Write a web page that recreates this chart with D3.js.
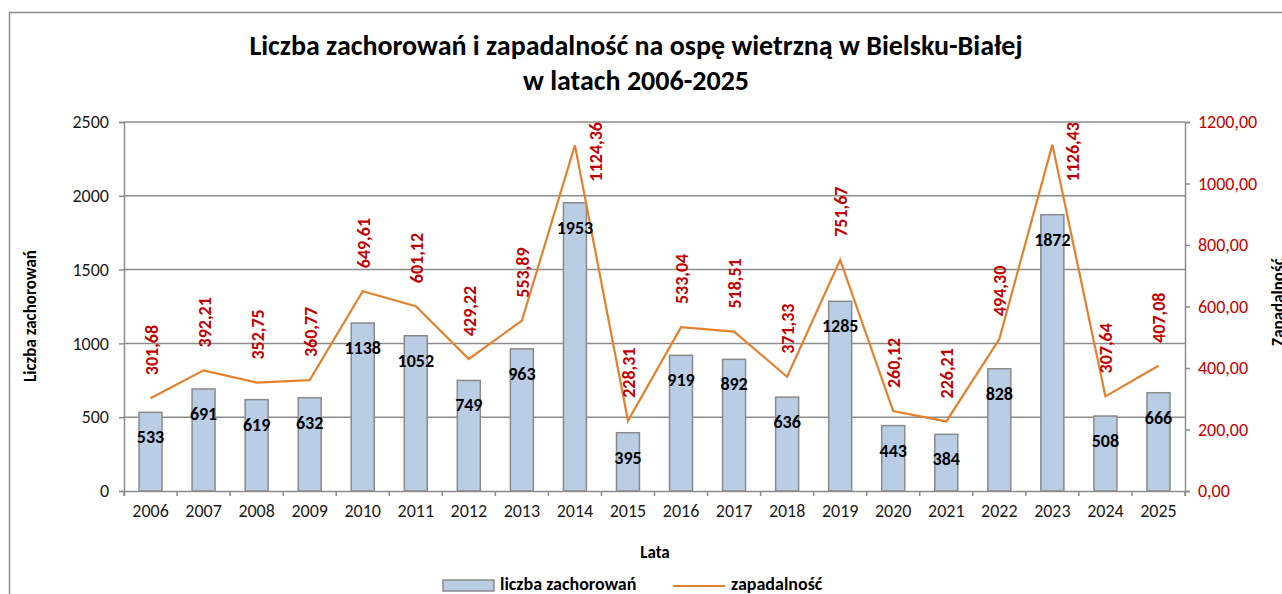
<!DOCTYPE html>
<html>
<head>
<meta charset="utf-8">
<script src="https://cdnjs.cloudflare.com/ajax/libs/d3/7.8.5/d3.min.js"></script>
<style>
  body { margin: 0; background: #fff; }
  text { font-family: Carlito, "Open Sans", "Noto Sans", sans-serif; }
</style>
</head>
<body>
<script>
// data
const years = ["2006", "2007", "2008", "2009", "2010", "2011", "2012", "2013", "2014", "2015",
  "2016", "2017", "2018", "2019", "2020", "2021", "2022", "2023", "2024", "2025"];
const cases = [533, 691, 619, 632, 1138, 1052, 749, 963, 1953, 395,
  919, 892, 636, 1285, 443, 384, 828, 1872, 508, 666];
const incidence = [301.68, 392.21, 352.75, 360.77, 649.61, 601.12, 429.22, 553.89, 1124.36, 228.31,
  533.04, 518.51, 371.33, 751.67, 260.12, 226.21, 494.30, 1126.43, 307.64, 407.08];
const leftTicks = [0, 500, 1000, 1500, 2000, 2500];
const rightTicks = [0, 200, 400, 600, 800, 1000, 1200];

const w = 1282;
const h = 594;
const pLeft = 124, pRight = 1185, pTop = 122, pBottom = 491;

const svg = d3.select("body").append("svg").attr("width", w).attr("height", h);

// outer frame
svg.append("rect")
  .attr("x", 9.5).attr("y", 12.5)
  .attr("width", 1300).attr("height", 700)
  .attr("fill", "none").attr("stroke", "#8c8c8c").attr("stroke-width", 1.5);

const fmt = (v) => v.toFixed(2).replace(".", ",");

/* ######## scales ######### */
const xScale = d3.scaleBand().domain(years).range([pLeft, pRight]);
const yLeft = d3.scaleLinear().domain([0, 2500]).range([pBottom, pTop]);
const yRight = d3.scaleLinear().domain([0, 1200]).range([pBottom, pTop]);
const cx = (i) => xScale(years[i]) + xScale.bandwidth() / 2;

// gridlines
svg.append("g")
  .selectAll("line")
  .data(leftTicks.slice(1))
  .enter()
  .append("line")
  .attr("x1", pLeft).attr("x2", pRight)
  .attr("y1", (d) => yLeft(d)).attr("y2", (d) => yLeft(d))
  .attr("stroke", "#8c8c8c").attr("stroke-width", 1.5);

// bars
const barW = 23;
svg.append("g")
  .selectAll("rect")
  .data(cases)
  .enter()
  .append("rect")
  .attr("x", (d, i) => cx(i) - barW / 2)
  .attr("y", (d) => yLeft(d))
  .attr("width", barW)
  .attr("height", (d) => pBottom - yLeft(d))
  .attr("fill", "#b9cde5")
  .attr("stroke", "#8a8a8a")
  .attr("stroke-width", 1.5);

// axes
const xAxis = d3.axisBottom(xScale).tickSize(5).tickPadding(8);
const yAxisL = d3.axisLeft(yLeft).tickValues(leftTicks).tickSize(5).tickPadding(10).tickFormat(d3.format("d"));
const yAxisR = d3.axisRight(yRight).tickValues(rightTicks).tickSize(5).tickPadding(8).tickFormat(fmt);

const gx = svg.append("g").attr("transform", "translate(0," + pBottom + ")").call(xAxis);
// ticks between categories like excel
gx.selectAll(".tick line").attr("transform", "translate(" + (xScale.bandwidth() / 2) + ",0)");
svg.append("line").attr("x1", pLeft).attr("x2", pLeft).attr("y1", pBottom).attr("y2", pBottom + 5)
  .attr("stroke", "#8c8c8c").attr("stroke-width", 1.5);

const gl = svg.append("g").attr("transform", "translate(" + pLeft + ",0)").call(yAxisL);
const gr = svg.append("g").attr("transform", "translate(" + pRight + ",0)").call(yAxisR);

[gx, gl, gr].forEach((g) => {
  g.select(".domain").attr("stroke", "#8c8c8c").attr("stroke-width", 1.5);
  g.selectAll(".tick line").attr("stroke", "#8c8c8c").attr("stroke-width", 1.5);
  g.selectAll(".tick text").attr("font-size", 18).attr("fill", "#1a1a1a")
    .style("font-family", "Carlito, 'Open Sans', sans-serif");
});
gr.selectAll(".tick text").attr("fill", "#c00000");

// line
const line = d3.line()
  .x((d, i) => cx(i))
  .y((d) => yRight(d));

svg.append("path")
  .datum(incidence)
  .attr("d", line)
  .attr("fill", "none")
  .attr("stroke", "#e3802e")
  .attr("stroke-width", 2.2);

// bar labels
svg.append("g")
  .selectAll("text")
  .data(cases)
  .enter()
  .append("text")
  .attr("x", (d, i) => cx(i))
  .attr("y", (d) => yLeft(d) + 31)
  .attr("text-anchor", "middle")
  .attr("font-size", 18)
  .attr("font-weight", "bold")
  .attr("fill", "#000")
  .text((d) => d);

// line labels (rotated above the point, pushed right/down if they'd leave the plot)
const lbl = svg.append("g")
  .selectAll("text")
  .data(incidence)
  .enter()
  .append("text")
  .attr("text-anchor", "start")
  .attr("font-size", 18)
  .attr("font-weight", "bold")
  .attr("fill", "#c00000")
  .text((d) => fmt(d));

lbl.each(function (d, i) {
  const len = this.getComputedTextLength();
  let y = yRight(d) - 23;
  let x = cx(i) + 7;
  if (y - len < pTop) {
    y = pTop + len;
    x = cx(i) + 27;
  }
  d3.select(this).attr("transform", "translate(" + x + "," + y + ") rotate(-90)");
});

// titles
svg.append("text").attr("x", 636).attr("y", 55).attr("text-anchor", "middle")
  .attr("font-size", 28).attr("font-weight", "bold").attr("fill", "#000")
  .text("Liczba zachorowań i zapadalność na ospę wietrzną w Bielsku-Białej");
svg.append("text").attr("x", 636).attr("y", 90).attr("text-anchor", "middle")
  .attr("font-size", 28).attr("font-weight", "bold").attr("fill", "#000")
  .text("w latach 2006-2025");

svg.append("text").attr("x", 655).attr("y", 558).attr("text-anchor", "middle")
  .attr("font-size", 17).attr("font-weight", "bold").text("Lata");

svg.append("text").attr("transform", "translate(36,316) rotate(-90)").attr("text-anchor", "middle")
  .attr("font-size", 17).attr("font-weight", "bold").text("Liczba zachorowań");

svg.append("text").attr("transform", "translate(1284,302) rotate(-90)").attr("text-anchor", "middle")
  .attr("font-size", 17).attr("font-weight", "bold").text("Zapadalność");

// legend
const lg = svg.append("g");
lg.append("rect").attr("x", 443).attr("y", 580).attr("width", 51).attr("height", 11)
  .attr("fill", "#b9cde5").attr("stroke", "#8a8a8a").attr("stroke-width", 1.5);
lg.append("text").attr("x", 500).attr("y", 590).attr("font-size", 18).attr("font-weight", "bold")
  .text("liczba zachorowań");
lg.append("line").attr("x1", 673).attr("x2", 725).attr("y1", 586).attr("y2", 586)
  .attr("stroke", "#e3802e").attr("stroke-width", 2.2);
lg.append("text").attr("x", 731).attr("y", 590).attr("font-size", 18).attr("font-weight", "bold")
  .text("zapadalność");
</script>
</body>
</html>
